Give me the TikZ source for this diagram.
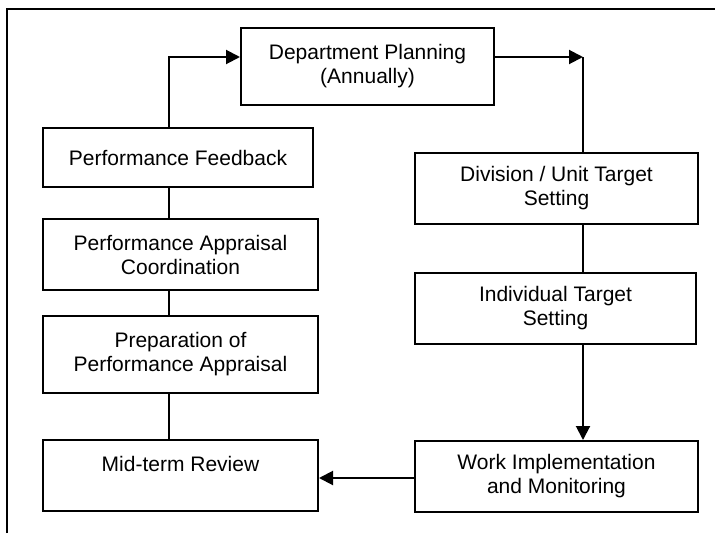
\documentclass[tikz,border=0pt]{standalone}
\usepackage{fontspec}
\setmainfont{Liberation Sans}
\usetikzlibrary{arrows.meta}
\begin{document}
\begin{tikzpicture}[x=1pt,y=-1pt,
  stage/.style={draw, rectangle, line width=2pt, inner sep=0pt, align=center,
    font=\fontsize{21}{24}\selectfont},
  link/.style={line width=2pt},
  flow/.style={line width=2pt, -{Triangle[length=14pt,width=14pt]}}]
\useasboundingbox (0,0) rectangle (715,533);
% open frame: top and left sides only
\draw[line width=2.5pt] (7,533) -- (7,9) -- (715,9);

% left column
\node[stage, minimum width=270pt, minimum height=59pt] (fb) at (178,157.5) {Performance Feedback};
\node[stage, minimum width=275pt, minimum height=71pt] (coord) at (180.5,254.5) {Performance Appraisal\\Coordination};
\node[stage, minimum width=275pt, minimum height=77pt] (prep) at (180.5,354.5) {Preparation of\\Performance Appraisal};
\node[stage, minimum width=275pt, minimum height=71pt] (mid) at (180.5,475.5) {Mid-term Review\\\phantom{M}};

% top
\node[stage, minimum width=253pt, minimum height=77pt] (dept) at (367.5,66.5) {Department Planning\\(Annually)};

% right column
\node[stage, minimum width=283pt, minimum height=71pt] (div) at (556.5,188.5) {Division / Unit Target\\Setting};
\node[stage, minimum width=281pt, minimum height=71pt] (ind) at (555.5,308.5) {Individual Target\\Setting};
\node[stage, minimum width=283pt, minimum height=71pt] (work) at (556.5,476.5) {Work Implementation\\and Monitoring};

% bus corners
\coordinate (lbus) at (169,57);
\coordinate (rbus) at (583,57);

% feedback loop back to planning
\draw[flow] (fb.north -| lbus) -- (lbus) -- (lbus -| dept.west);
\draw[link] (fb.south -| lbus) -- (coord.north -| lbus);
\draw[link] (coord.south -| lbus) -- (prep.north -| lbus);
\draw[link] (prep.south -| lbus) -- (mid.north -| lbus);

% planning down to targets
\draw[flow] (dept.east |- rbus) -- (rbus);
\draw[link] (rbus) -- (rbus |- div.north);
\draw[link] (div.south -| rbus) -- (ind.north -| rbus);
\draw[flow] (ind.south -| rbus) -- (work.north -| rbus);

% implementation to review
\draw[flow] (work.west |- 0,478) -- (mid.east |- 0,478);
\end{tikzpicture}
\end{document}
